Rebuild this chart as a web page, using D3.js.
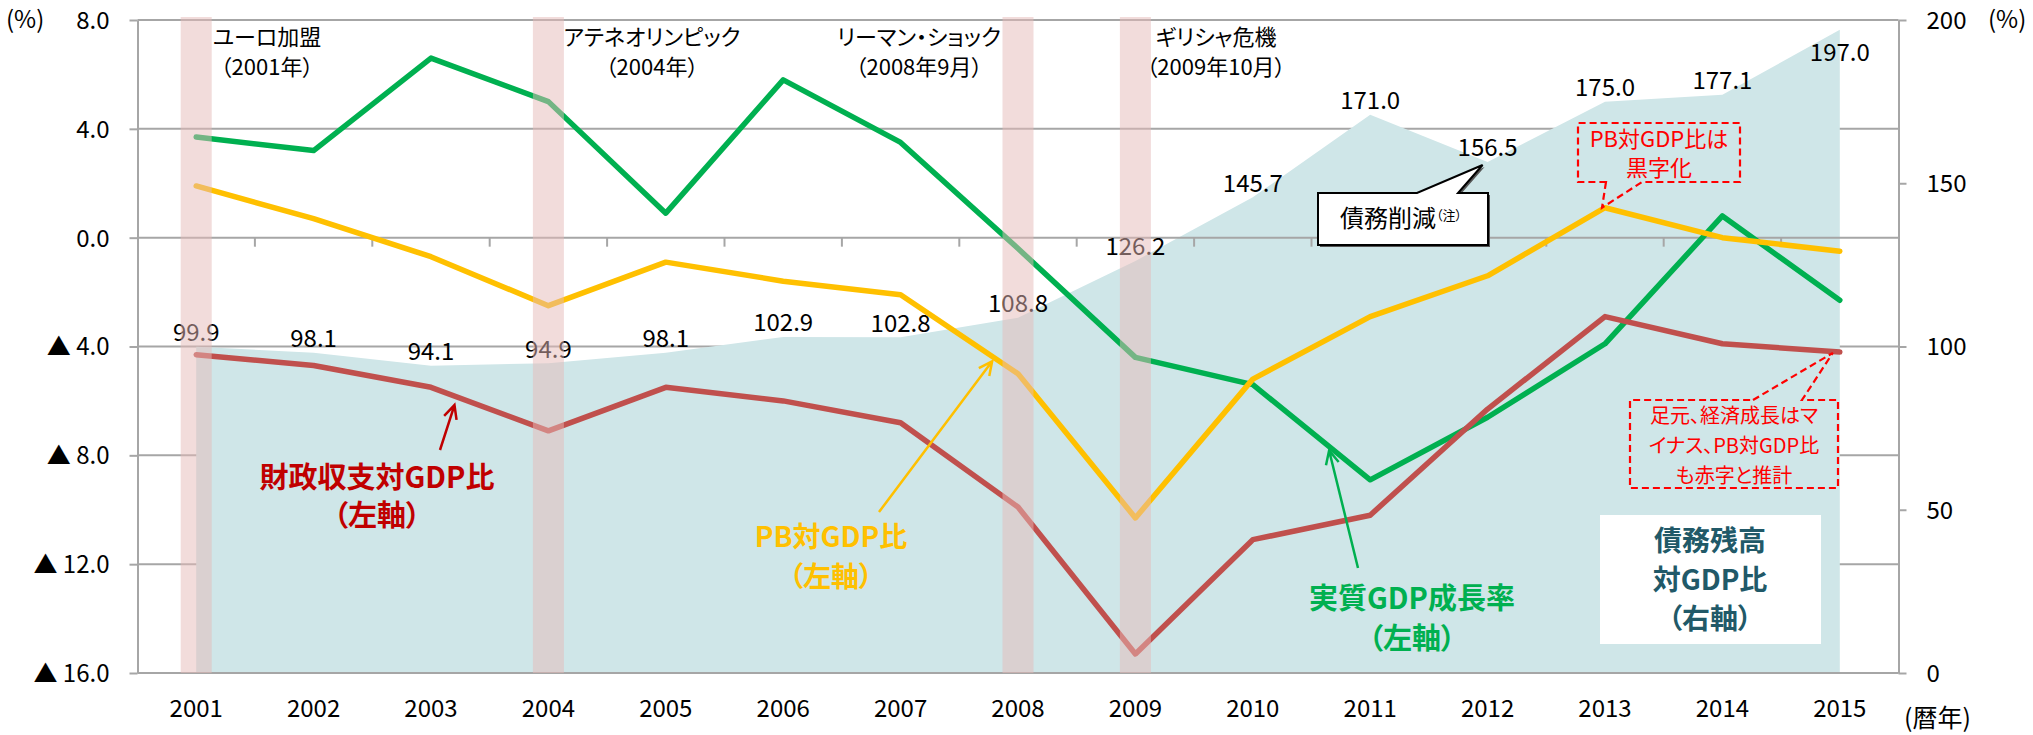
<!DOCTYPE html>
<html>
<head>
<meta charset="utf-8">
<script src="https://cdn.jsdelivr.net/npm/d3@7"></script>
<style>
  body { margin: 0; background: #fff; }
  text { font-family: "Noto Sans CJK JP", "Noto Sans", sans-serif; font-feature-settings: "palt"; }
</style>
</head>
<body>
<script>
// data
const years = [2001, 2002, 2003, 2004, 2005, 2006, 2007, 2008, 2009, 2010, 2011, 2012, 2013, 2014, 2015];
const gdpGrowth = [3.7, 3.2, 6.6, 5.0, 0.9, 5.8, 3.5, -0.4, -4.4, -5.4, -8.9, -6.6, -3.9, 0.8, -2.3];
const primaryBalance = [1.9, 0.7, -0.7, -2.5, -0.9, -1.6, -2.1, -5.0, -10.3, -5.2, -2.9, -1.4, 1.1, 0.0, -0.5];
const fiscalBalance = [-4.3, -4.7, -5.5, -7.1, -5.5, -6.0, -6.8, -9.9, -15.3, -11.1, -10.2, -6.3, -2.9, -3.9, -4.2];
const debtRatio = [99.9, 98.1, 94.1, 94.9, 98.1, 102.9, 102.8, 108.8, 126.2, 145.7, 171.0, 156.5, 175.0, 177.1, 197.0];
const leftTicks = [8, 4, 0, -4, -8, -12, -16];
const rightTicks = [0, 50, 100, 150, 200];
const eventYears = [2001, 2004, 2008, 2009];
const eventLabels = [["ユーロ加盟", "（2001年）"], ["アテネオリンピック", "（2004年）"],
                     ["リーマン・ショック", "（2008年9月）"], ["ギリシャ危機", "（2009年10月）"]];

let width = 2033, height = 735;
let L = 137.5, R = 1898.5, T = 20, B = 673;
let gridColor = "#a6a6a6";

let svg = d3.select("body").append("svg")
  .attr("width", width)
  .attr("height", height);

let x = d3.scaleBand().domain(years).range([L, R]);
let bw = x.bandwidth();
let cx = function(yr) { return x(yr) + bw / 2; };
let yL = d3.scaleLinear().domain([-16, 8]).range([B, T]);
let yR = d3.scaleLinear().domain([0, 200]).range([B, T]);

// gridlines under the area
svg.selectAll("line.grid")
  .data(leftTicks.filter(function(d) { return d !== 0 && d !== -16; }))
  .enter().append("line")
  .attr("class", "grid")
  .attr("x1", L).attr("x2", R)
  .attr("y1", function(d) { return yL(d); })
  .attr("y2", function(d) { return yL(d); })
  .attr("stroke", gridColor).attr("stroke-width", 2);

// debt area (right axis)
let area = d3.area()
  .x(function(d, i) { return cx(years[i]); })
  .y0(yR(0))
  .y1(function(d) { return yR(d); });

svg.append("path")
  .datum(debtRatio)
  .attr("d", area)
  .attr("fill", "#cfe6e8");

// white box for the area label
svg.append("rect")
  .attr("x", 1600).attr("y", 515)
  .attr("width", 221).attr("height", 129)
  .attr("fill", "#fff");

// zero line + bottom line over the area
[0, -16].forEach(function(v) {
  svg.append("line")
    .attr("x1", L).attr("x2", R)
    .attr("y1", yL(v)).attr("y2", yL(v))
    .attr("stroke", gridColor).attr("stroke-width", 2);
});
svg.selectAll("line.cat")
  .data(years.slice(1))
  .enter().append("line")
  .attr("x1", function(d) { return x(d); })
  .attr("x2", function(d) { return x(d); })
  .attr("y1", yL(0)).attr("y2", yL(0) + 9)
  .attr("stroke", gridColor).attr("stroke-width", 2);

// axes
let fmtLeft = function(d) {
  return d < 0 ? "▲ " + Math.abs(d).toFixed(1) : d.toFixed(1);
};
let leftAxis = svg.append("g")
  .attr("transform", "translate(" + L + ",0)")
  .call(d3.axisLeft(yL).tickValues(leftTicks).tickSize(8).tickSizeOuter(0).tickPadding(20).tickFormat(fmtLeft));
let rightAxis = svg.append("g")
  .attr("transform", "translate(" + R + ",0)")
  .call(d3.axisRight(yR).tickValues(rightTicks).tickSize(8).tickSizeOuter(0).tickPadding(20));
let bottomAxis = svg.append("g")
  .attr("transform", "translate(0," + B + ")")
  .call(d3.axisBottom(x).tickSize(0).tickPadding(27));
bottomAxis.select(".domain").remove();

[leftAxis, rightAxis, bottomAxis].forEach(function(g) {
  g.attr("font-size", 24);
  g.selectAll("text").attr("fill", "#000");
  g.selectAll("line").attr("stroke", gridColor).attr("stroke-width", 2);
  g.selectAll(".domain").attr("stroke", gridColor).attr("stroke-width", 2);
});
leftAxis.selectAll("text").attr("dy", "0.35em");
rightAxis.selectAll("text").attr("dy", "0.35em");

svg.append("text").attr("x", 6).attr("y", T).attr("dy", "0.35em")
  .attr("font-size", 24).text("(%)");
svg.append("text").attr("x", 1988).attr("y", T).attr("dy", "0.35em")
  .attr("font-size", 24).text("(%)");
svg.append("text").attr("x", 1904).attr("y", 718).attr("dy", "0.35em")
  .attr("font-size", 25).text("(暦年)");

// debt value labels
svg.selectAll("text.debt")
  .data(debtRatio)
  .enter().append("text")
  .attr("class", "debt")
  .attr("x", function(d, i) { return cx(years[i]); })
  .attr("y", function(d) {
    let yy = yR(d) - 14;
    return yy < T + 20 ? yR(d) + 23 : yy;
  })
  .attr("dy", "0.35em")
  .attr("text-anchor", "middle")
  .attr("font-size", 24)
  .text(function(d) { return d.toFixed(1); });

// lines (left axis)
let line = d3.line()
  .x(function(d, i) { return cx(years[i]); })
  .y(function(d) { return yL(d); });

[[gdpGrowth, "#00b050"], [primaryBalance, "#ffc000"], [fiscalBalance, "#c0504d"]].forEach(function(s) {
  svg.append("path")
    .datum(s[0])
    .attr("d", line)
    .attr("fill", "none")
    .attr("stroke", s[1])
    .attr("stroke-width", 5.5)
    .attr("stroke-linejoin", "round")
    .attr("stroke-linecap", "round");
});

// event bars (semi transparent, on top)
svg.selectAll("rect.event")
  .data(eventYears)
  .enter().append("rect")
  .attr("x", function(d) { return cx(d) - 15.5; })
  .attr("y", T - 3)
  .attr("width", 31)
  .attr("height", B - T + 3)
  .attr("fill", "#e6b9b8")
  .attr("opacity", 0.5);

// multi-line text as one element
function multiText(lines, xx, y0, gap, opts) {
  let t = svg.append("text")
    .attr("x", xx).attr("y", y0)
    .attr("text-anchor", "middle")
    .attr("font-size", opts.size)
    .attr("font-weight", opts.weight || "normal")
    .attr("fill", opts.color || "#000");
  lines.forEach(function(s, j) {
    t.append("tspan")
      .attr("x", xx)
      .attr("y", y0 + j * gap)
      .attr("dy", "0.35em")
      .text(s);
  });
}

// event notes
let eventX = [267, 652, 919, 1216];
eventLabels.forEach(function(lbl, i) {
  multiText(lbl, eventX[i], 37, 30, { size: 22 });
});

// arrows
function onLine(series, i, t) {
  return [cx(years[i]) + t * bw, yL(series[i] + t * (series[i + 1] - series[i]))];
}
function arrow(x1, y1, x2, y2, color) {
  let a = Math.atan2(y2 - y1, x2 - x1);
  let len = 15, spread = 0.45;
  svg.append("path")
    .attr("d", "M" + x1 + "," + y1 + "L" + x2 + "," + y2 +
      "M" + (x2 - len * Math.cos(a - spread)) + "," + (y2 - len * Math.sin(a - spread)) +
      "L" + x2 + "," + y2 +
      "L" + (x2 - len * Math.cos(a + spread)) + "," + (y2 - len * Math.sin(a + spread)))
    .attr("fill", "none")
    .attr("stroke", color)
    .attr("stroke-width", 2.5);
}
let tipRed = onLine(fiscalBalance, 2, 0.2);
arrow(440, 450, tipRed[0], tipRed[1] + 9, "#c00000");
let tipYel = onLine(primaryBalance, 6, 0.78);
arrow(879, 512, tipYel[0], tipYel[1] + 5, "#ffc000");
let tipGrn = onLine(gdpGrowth, 9, 0.65);
arrow(1358, 568, tipGrn[0], tipGrn[1] + 4, "#00b050");

// series labels
multiText(["財政収支対GDP比", "（左軸）"], 377, 478, 38, { size: 29, weight: "bold", color: "#c00000" });
multiText(["PB対GDP比", "（左軸）"], 831, 537, 40, { size: 28, weight: "bold", color: "#ffc000" });
multiText(["実質GDP成長率", "（左軸）"], 1412, 599, 40, { size: 29, weight: "bold", color: "#00b050" });
multiText(["債務残高", "対GDP比", "（右軸）"], 1710, 541, 39, { size: 28, weight: "bold", color: "#215968" });

// callout: debt reduction
let tipDebt = [cx(2012) - 5, yR(156.5) + 3];
let calloutPath = "M1318,193H1417L" + tipDebt[0] + "," + tipDebt[1] + "L1458,193H1488V245H1318Z";
svg.append("path").attr("d", calloutPath)
  .attr("transform", "translate(2,2)")
  .attr("fill", "#555");
svg.append("path").attr("d", calloutPath)
  .attr("fill", "#fff").attr("stroke", "#000").attr("stroke-width", 2);
let cTxt = svg.append("text").attr("x", 1340).attr("y", 219).attr("dy", "0.35em").attr("font-size", 24);
cTxt.append("tspan").text("債務削減");
cTxt.append("tspan").attr("font-size", 13).attr("dy", -7).text("（注）");

// dashed red callouts
function dashedCallout(x0, y0, x1, y1, gapA, gapB, side, tip) {
  let p;
  if (side === "bottom") {
    p = "M" + gapA + "," + y1 + "L" + tip[0] + "," + tip[1] + "L" + gapB + "," + y1 +
        "H" + x1 + "V" + y0 + "H" + x0 + "V" + y1 + "Z";
  } else {
    p = "M" + gapA + "," + y0 + "L" + tip[0] + "," + tip[1] + "L" + gapB + "," + y0 +
        "H" + x1 + "V" + y1 + "H" + x0 + "V" + y0 + "Z";
  }
  svg.append("path").attr("d", p)
    .attr("fill", "none")
    .attr("stroke", "#ff0000")
    .attr("stroke-width", 2.2)
    .attr("stroke-dasharray", "7,4");
}
dashedCallout(1578, 123, 1740, 182, 1606, 1642, "bottom", [cx(2013) - 3, yL(1.1)]);
dashedCallout(1630, 400, 1838, 488, 1753, 1802, "top", [cx(2015) - 7, yL(-4.2) + 1]);

multiText(["PB対GDP比は", "黒字化"], 1659, 139, 29, { size: 22, color: "#ff0000" });
multiText(["足元、経済成長はマ", "イナス、PB対GDP比", "も赤字と推計"], 1734, 416, 30, { size: 20, color: "#ff0000" });
</script>
</body>
</html>
